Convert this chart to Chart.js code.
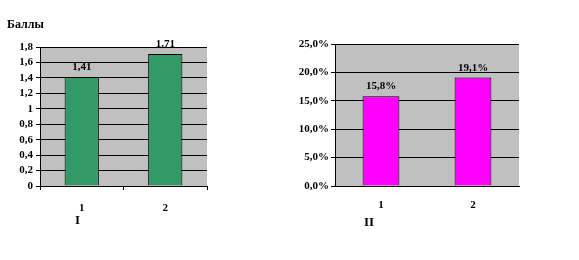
<!DOCTYPE html>
<html>
<head>
<meta charset="utf-8">
<script src="https://cdn.jsdelivr.net/npm/chart.js@4"></script>
<style>
  body { margin: 0; background: #fff; width: 579px; height: 260px; position: relative; overflow: hidden; }
  #wrap1 { position: absolute; left: 0; top: 0; width: 220px; height: 240px; }
  #wrap2 { position: absolute; left: 290px; top: 0; width: 240px; height: 240px; }
</style>
</head>
<body>
<div id="wrap1"><canvas id="chart1"></canvas></div>
<div id="wrap2"><canvas id="chart2"></canvas></div>
<script>
// data
var categories = ['1', '2'];
var scores = [1.41, 1.71];      // Баллы
var percents = [15.8, 19.1];    // %

var FONT = { family: '"Liberation Serif", "Times New Roman", serif', size: 11, weight: 'bold' };

function comma(v) { return String(v).replace('.', ','); }

// gray plot background
var bgPlugin = {
    id: 'bg',
    beforeDraw: function (c) {
        var a = c.chartArea;
        c.ctx.save();
        c.ctx.fillStyle = '#c0c0c0';
        c.ctx.fillRect(a.left, a.top, a.right - a.left, a.bottom - a.top);
        c.ctx.restore();
    }
};

// value labels over bars + free text
var textPlugin = {
    id: 'texts',
    afterDatasetsDraw: function (c, args, opts) {
        var ctx = c.ctx;
        ctx.save();
        ctx.fillStyle = '#000';
        ctx.font = 'bold 11px "Liberation Serif", serif';
        ctx.textAlign = 'center';
        ctx.textBaseline = 'alphabetic';
        var ds = c.data.datasets[0];
        c.getDatasetMeta(0).data.forEach(function (bar, i) {
            ctx.fillText(opts.fmt(ds.data[i]), bar.x, bar.y - 7);
        });
        (opts.extra || []).forEach(function (t) {
            ctx.textAlign = t.align || 'left';
            ctx.font = t.font || 'bold 11px "Liberation Serif", serif';
            ctx.fillText(t.text, t.x, t.y);
        });
        ctx.restore();
    }
};

//---chart I
var ctx1 = document.getElementById('chart1').getContext('2d');
var chart1 = new Chart(ctx1, {
    type: 'bar',
    data: {
        labels: categories,
        datasets: [{
            data: scores,
            backgroundColor: '#339966',
            borderColor: '#000',
            borderWidth: 1,
            barPercentage: 0.41,
            categoryPercentage: 1
        }]
    },
    options: {
        responsive: true,
        maintainAspectRatio: false,
        animation: false,
        layout: { padding: { top: 47, right: 13, left: 0, bottom: 0 } },
        plugins: {
            legend: { display: false },
            tooltip: { enabled: false },
            texts: {
                fmt: comma,
                extra: [
                    { text: 'Баллы', x: 7, y: 28, font: 'bold 12px "Liberation Serif", serif' },
                    { text: 'I', x: 75, y: 224, font: 'bold 13px "Liberation Serif", serif' }
                ]
            }
        },
        scales: {
            x: {
                afterFit: function (s) { s.height = 54; },
                grid: { offset: true, drawOnChartArea: false, color: '#000', tickLength: 4 },
                border: { color: '#000' },
                ticks: { color: '#000', font: FONT, padding: 12 }
            },
            y: {
                min: 0,
                max: 1.8,
                afterFit: function (s) { s.width = 40; },
                grid: { color: '#000', tickLength: 4 },
                border: { color: '#000' },
                ticks: { stepSize: 0.2, autoSkip: false, color: '#000', font: FONT, padding: 3,
                    callback: function (v) { return comma(Math.round(v * 10) / 10); } }
            }
        }
    },
    plugins: [bgPlugin, textPlugin]
});

//---chart II
var ctx2 = document.getElementById('chart2').getContext('2d');
var chart2 = new Chart(ctx2, {
    type: 'bar',
    data: {
        labels: categories,
        datasets: [{
            data: percents,
            backgroundColor: '#ff00ff',
            borderColor: '#000',
            borderWidth: 1,
            barPercentage: 0.40,
            categoryPercentage: 1
        }]
    },
    options: {
        responsive: true,
        maintainAspectRatio: false,
        animation: false,
        layout: { padding: { top: 44, right: 11, left: 0, bottom: 0 } },
        plugins: {
            legend: { display: false },
            tooltip: { enabled: false },
            texts: {
                fmt: function (v) { return comma(v.toFixed(1)) + '%'; },
                extra: [
                    { text: 'II', x: 79, y: 226, align: 'center', font: 'bold 13px "Liberation Serif", serif' }
                ]
            }
        },
        scales: {
            x: {
                afterFit: function (s) { s.height = 54; },
                grid: { offset: true, drawOnChartArea: false, drawTicks: false },
                border: { color: '#000', dash: [1, 2] },
                ticks: { color: '#000', font: FONT, padding: 13 }
            },
            y: {
                min: 0,
                max: 25,
                afterFit: function (s) { s.width = 45; },
                grid: { color: '#000', tickLength: 4 },
                border: { color: '#000' },
                ticks: { stepSize: 5, autoSkip: false, color: '#000', font: FONT, padding: 2,
                    callback: function (v) { return comma(v.toFixed(1)) + '%'; } }
            }
        }
    },
    plugins: [bgPlugin, textPlugin]
});
</script>
</body>
</html>
